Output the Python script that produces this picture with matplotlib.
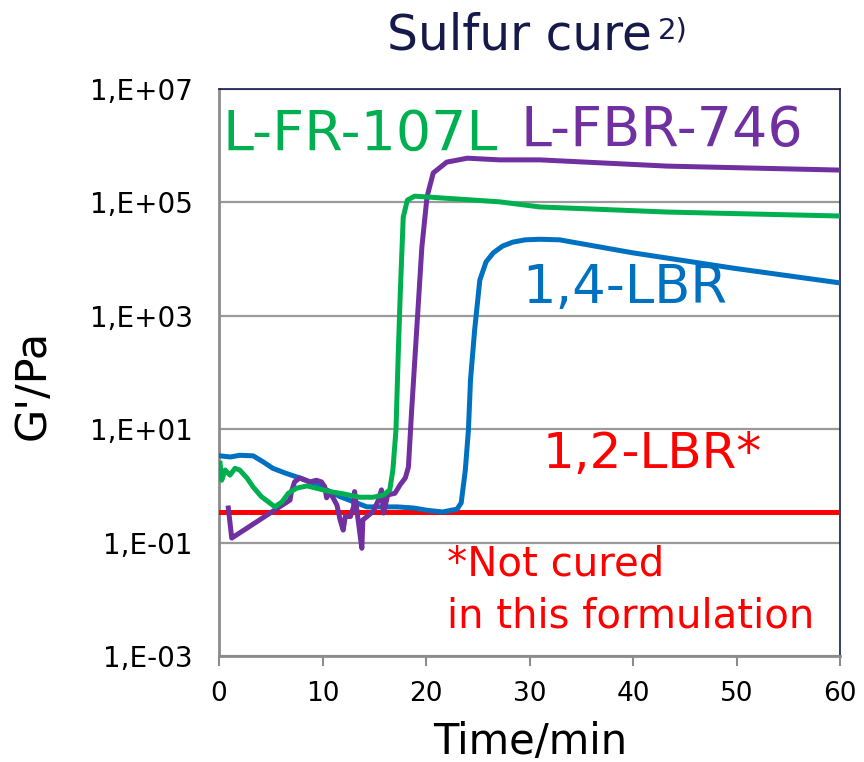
"""Sulfur cure rheology chart: storage modulus G' vs. cure time."""

import numpy as np
import matplotlib.pyplot as plt
from matplotlib.ticker import FixedLocator, NullLocator

plt.rcParams["font.family"] = ["DejaVu Sans"]

# time in minutes, G' as log10(G'/Pa)
FR107_T = [0.1, 0.26, 0.6, 1.06, 1.55, 2.0, 2.7, 3.3, 4.1, 4.9, 5.4, 6.1, 6.7, 7.5,
           8.5, 9.4, 10.7, 12.0, 13.6, 14.9, 15.9, 16.5, 16.8, 17.1, 17.3, 17.5,
           17.8, 18.2, 18.9, 19.7, 21.4, 27.1, 31.0, 43.3, 60.0]
FR107_LOG = [0.40, 0.10, 0.28, 0.19, 0.31, 0.28, 0.14, -0.02, -0.19, -0.30, -0.37,
             -0.28, -0.13, -0.04, 0.00, -0.04, -0.10, -0.14, -0.20, -0.20, -0.16,
             -0.07, 0.28, 0.99, 2.22, 3.33, 4.74, 5.04, 5.11, 5.10, 5.08, 5.01,
             4.92, 4.83, 4.76]

FBR746_T = [0.9, 1.0, 1.23, 6.86, 7.0, 7.3, 7.8, 8.8, 9.4, 9.9, 10.2, 10.4, 10.7,
            11.4, 11.7, 12.0, 12.2, 12.7, 13.0, 13.1, 13.4, 13.8, 13.9, 14.3, 14.9,
            15.4, 15.7, 15.9, 16.3, 17.0, 17.5, 18.0, 18.3, 18.6, 19.1, 19.6, 20.1,
            20.7, 22.0, 24.0, 27.1, 31.0, 43.3, 60.0]
FBR746_LOG = [-0.39, -0.55, -0.92, -0.25, -0.10, 0.07, 0.14, 0.07, 0.10, 0.07, -0.01,
              -0.21, -0.10, -0.34, -0.60, -0.78, -0.54, -0.54, -0.37, -0.10, -0.54,
              -1.10, -0.60, -0.54, -0.45, -0.25, -0.07, -0.48, -0.16, -0.13, 0.02,
              0.14, 0.33, 1.29, 2.75, 4.21, 5.10, 5.52, 5.71, 5.78, 5.75, 5.75,
              5.64, 5.57]

LBR14_T = [0.1, 1.1, 2.0, 3.3, 4.3, 5.2, 6.5, 7.8, 9.1, 10.4, 11.7, 13.0, 14.3,
           15.6, 17.2, 18.8, 20.1, 21.6, 23.0, 23.4, 23.8, 24.1, 24.3, 24.7, 25.2,
           25.8, 26.5, 27.4, 28.4, 29.6, 31.0, 32.9, 40.0, 49.7, 60.0]
LBR14_LOG = [0.53, 0.51, 0.54, 0.53, 0.42, 0.31, 0.22, 0.14, 0.05, -0.07, -0.19,
             -0.28, -0.37, -0.37, -0.37, -0.39, -0.43, -0.46, -0.41, -0.30, 0.28,
             0.99, 1.87, 2.75, 3.63, 3.95, 4.11, 4.23, 4.30, 4.34, 4.35, 4.34,
             4.11, 3.84, 3.58]

LBR12_T = [0.0, 60.0]
LBR12_LOG = [-0.46, -0.46]

Y_TICKS = [1e-3, 1e-1, 1e1, 1e3, 1e5, 1e7]
Y_TICK_LABELS = ["1,E-03", "1,E-01", "1,E+01", "1,E+03", "1,E+05", "1,E+07"]
X_TICKS = [0, 10, 20, 30, 40, 50, 60]

GREEN = "#00b050"
PURPLE = "#7030a0"
BLUE = "#0070c0"
RED = "#ff0000"
NAVY = "#161a4a"
GRAY = "#8c8c8c"


def main():
    fig = plt.figure(figsize=(8.64, 7.62), dpi=100)
    ax = fig.add_axes([219 / 864, 1 - 656 / 762, 621 / 864, 567 / 762])

    lw = 3.6
    ax.plot(LBR12_T, 10 ** np.array(LBR12_LOG), color=RED, lw=lw, zorder=3)
    ax.plot(LBR14_T, 10 ** np.array(LBR14_LOG), color=BLUE, lw=lw, zorder=4)
    ax.plot(FBR746_T, 10 ** np.array(FBR746_LOG), color=PURPLE, lw=lw, zorder=5)
    ax.plot(FR107_T, 10 ** np.array(FR107_LOG), color=GREEN, lw=lw, zorder=6)

    ax.set_yscale("log")
    ax.set_xlim(0, 60)
    ax.set_ylim(1e-3, 1e7)
    ax.yaxis.set_major_locator(FixedLocator(Y_TICKS))
    ax.yaxis.set_minor_locator(NullLocator())
    ax.set_yticklabels(Y_TICK_LABELS)
    ax.set_xticks(X_TICKS)

    ax.grid(axis="y", color="#9a9a9a", lw=1.6)
    ax.set_axisbelow(True)
    ax.tick_params(axis="y", length=0, pad=19, labelsize=20)
    ax.tick_params(axis="x", length=7, width=1.5, color=GRAY, pad=11, labelsize=19)

    for side in ("left", "bottom"):
        ax.spines[side].set_color(GRAY)
        ax.spines[side].set_linewidth(2)
    for side in ("top", "right"):
        ax.spines[side].set_color(NAVY)
        ax.spines[side].set_linewidth(1.2)

    # curve labels
    ax.text(0.3, 10 ** 5.92, "L-FR-107L", color=GREEN, fontsize=40, va="baseline")
    ax.text(29.1, 10 ** 6.0, "L-FBR-746", color=PURPLE, fontsize=40, va="baseline")
    ax.text(29.3, 10 ** 3.23, "1,4-LBR", color=BLUE, fontsize=38, va="baseline")
    ax.text(31.3, 10 ** 0.32, "1,2-LBR*", color=RED, fontsize=36, va="baseline")
    ax.text(22.0, 10 ** -1.58, "*Not cured", color=RED, fontsize=29, va="baseline")
    ax.text(22.0, 10 ** -2.5, "in this formulation", color=RED, fontsize=29,
            va="baseline")

    # title with superscript note mark
    fig.text(387 / 864, 1 - 50 / 762, "Sulfur cure", color=NAVY, fontsize=35,
             va="baseline", ha="left")
    fig.text(658 / 864, 1 - 16 / 762, "2)", color=NAVY, fontsize=21, va="top",
             ha="left")

    fig.text(530 / 864, 1 - 742 / 762, "Time/min", fontsize=30, ha="center",
             va="center")
    fig.text(33 / 864, 1 - 385 / 762, "G'/Pa", fontsize=31, rotation=90,
             ha="center", va="center")

    fig.savefig("out.png", dpi=100)


if __name__ == "__main__":
    main()
